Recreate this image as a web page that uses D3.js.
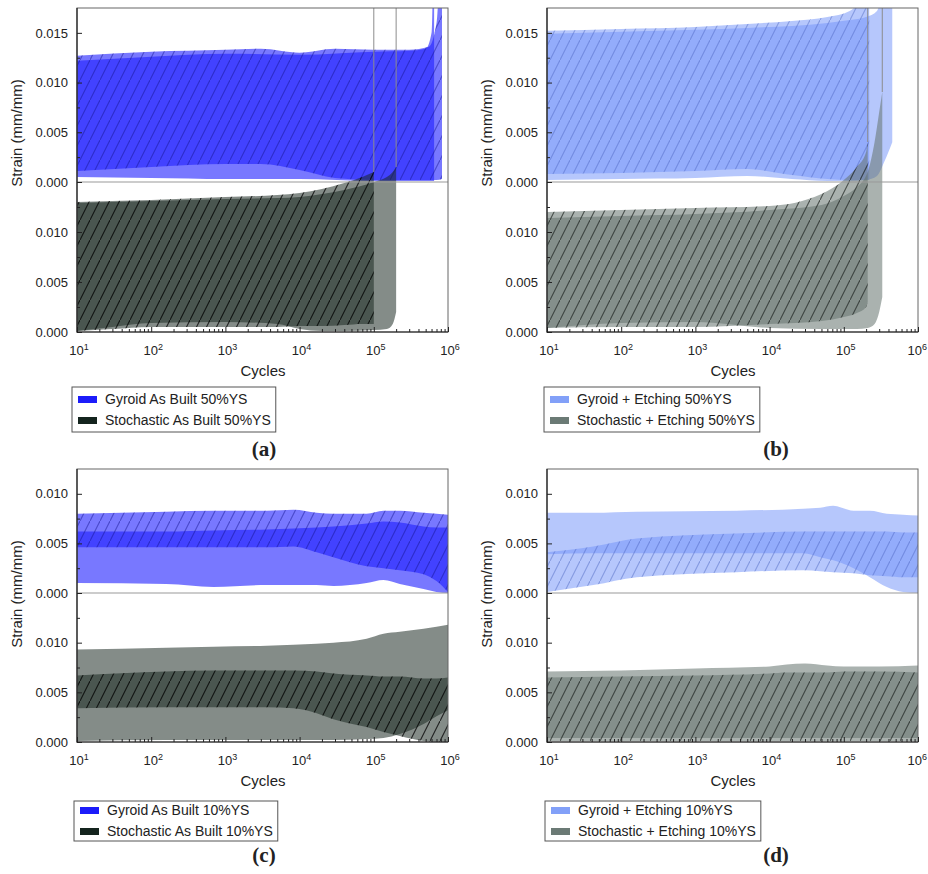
<!DOCTYPE html>
<html>
<head>
<meta charset="utf-8">
<script src="https://cdn.jsdelivr.net/npm/d3@7"></script>
<style>
body { margin: 0; background: #fff; }
svg text { font-family: "Liberation Sans", Arial, sans-serif; fill: #222; }
</style>
</head>
<body>
<div id="chart"></div>
<script>
// ---- ticks ----
let decades = [1e1, 1e2, 1e3, 1e4, 1e5, 1e6]
let topMajor50 = [0, 0.005, 0.010, 0.015]
let topMinor50 = [0.0025, 0.0075, 0.0125]
let topMajor10 = [0, 0.005, 0.010]
let topMinor10 = [0.0025, 0.0075]
let botMajor = [0, 0.005, 0.010]
let botMinor = [0.0025, 0.0075, 0.0125]

// ---- (a) As Built 50%YS ----
let aGyrHatchCyc  = [10, 100, 1000, 3000, 10000, 30000, 100000, 300000, 550000, 700000, 830000]
let aGyrHatchHigh = [0.0127, 0.0131, 0.0133, 0.0134, 0.0130, 0.0134, 0.0133, 0.0133, 0.0136, 0.0160, 0.0300]
let aGyrHatchLow  = [0.0011, 0.0015, 0.0018, 0.0018, 0.0012, 0.0004, 0.0002, 0.0002, 0.0002, 0.0002, 0.0003]
let aGyrPlainCyc  = [10, 100, 1000, 10000, 100000, 300000, 500000, 600000, 650000]
let aGyrPlainHigh = [0.0122, 0.0126, 0.0129, 0.0128, 0.0131, 0.0132, 0.0134, 0.0150, 0.0300]
let aGyrPlainLow  = [0.0005, 0.0004, 0.0003, 0.0003, 0.0001, 0.0001, 0.0001, 0.0001, 0.0001]
let aStoHatchCyc  = [10, 30, 100, 1000, 5000, 10000, 20000, 40000, 70000, 100000]
let aStoHatchHigh = [0.0130, 0.0131, 0.0132, 0.0135, 0.0137, 0.0139, 0.0143, 0.0149, 0.0155, 0.0160]
let aStoHatchLow  = [0.0001, 0.0003, 0.0005, 0.0005, 0.0005, 0.0006, 0.0006, 0.0007, 0.0008, 0.0008]
let aStoPlainCyc  = [10, 30, 100, 1000, 5000, 10000, 20000, 40000, 100000, 150000, 180000, 200000]
let aStoPlainHigh = [0.0129, 0.0130, 0.0131, 0.0133, 0.0134, 0.0135, 0.0138, 0.0142, 0.0150, 0.0155, 0.0160, 0.0165]
let aStoPlainLow  = [0.0001, 0.0005, 0.0009, 0.0010, 0.0008, 0.0003, 0.0001, 0.0001, 0.0002, 0.0003, 0.0008, 0.0020]

// ---- (b) + Etching 50%YS ----
let bGyrHatchCyc  = [10, 100, 1000, 5000, 20000, 60000, 120000, 180000, 220000]
let bGyrHatchHigh = [0.0152, 0.0154, 0.0156, 0.0159, 0.0162, 0.0166, 0.0172, 0.0190, 0.0300]
let bGyrHatchLow  = [0.0008, 0.0009, 0.0011, 0.0013, 0.0007, 0.0003, 0.0002, 0.0002, 0.0002]
let bGyrPlainCyc  = [10, 100, 1000, 5000, 20000, 60000, 120000, 200000, 280000, 350000, 450000]
let bGyrPlainHigh = [0.0149, 0.0151, 0.0153, 0.0155, 0.0157, 0.0160, 0.0163, 0.0166, 0.0172, 0.0210, 0.0300]
let bGyrPlainLow  = [0.0002, 0.0003, 0.0004, 0.0006, 0.0003, 0.0001, 0.0001, 0.0002, 0.0006, 0.0020, 0.0040]
let bStoHatchCyc  = [10, 100, 1000, 10000, 50000, 100000, 150000, 200000, 210000]
let bStoHatchHigh = [0.0120, 0.0122, 0.0124, 0.0126, 0.0138, 0.0152, 0.0165, 0.0180, 0.0190]
let bStoHatchLow  = [0.0004, 0.0005, 0.0005, 0.0008, 0.0011, 0.0015, 0.0019, 0.0025, 0.0030]
let bStoPlainCyc  = [10, 100, 1000, 10000, 50000, 100000, 150000, 210000, 260000, 300000, 330000]
let bStoPlainHigh = [0.0114, 0.0116, 0.0118, 0.0122, 0.0127, 0.0136, 0.0145, 0.0160, 0.0190, 0.0220, 0.0240]
let bStoPlainLow  = [0.0004, 0.0009, 0.0010, 0.0004, 0.0003, 0.0003, 0.0003, 0.0004, 0.0008, 0.0020, 0.0035]

// ---- (c) As Built 10%YS ----
let cCyc          = [10, 160, 690, 3600, 8300, 17000, 28500, 80000, 135000, 224000, 468000, 700000, 1000000]
let cGyrHatchHigh = [0.0080, 0.0082, 0.0083, 0.0083, 0.0084, 0.0081, 0.0080, 0.0080, 0.0083, 0.0083, 0.0081, 0.0080, 0.0079]
let cGyrHatchLow  = [0.0046, 0.0046, 0.0046, 0.0046, 0.0047, 0.0041, 0.0036, 0.0027, 0.0025, 0.0023, 0.0019, 0.0012, 0.0001]
let cGyrPlainHigh = [0.0062, 0.0062, 0.0063, 0.0064, 0.0065, 0.0066, 0.0067, 0.0070, 0.0072, 0.0071, 0.0067, 0.0066, 0.0066]
let cGyrPlainLow  = [0.0010, 0.0009, 0.0006, 0.0008, 0.0008, 0.0008, 0.0007, 0.0010, 0.0013, 0.0009, 0.0004, 0.0001, 0.0000]
let cStoHatchHigh = [0.0067, 0.0071, 0.0072, 0.0072, 0.0072, 0.0071, 0.0069, 0.0067, 0.0066, 0.0066, 0.0064, 0.0064, 0.0065]
let cStoHatchLow  = [0.0034, 0.0035, 0.0035, 0.0035, 0.0034, 0.0029, 0.0023, 0.0015, 0.0010, 0.0006, 0.0001, 0.0000, 0.0000]
let cStoPlainHigh = [0.0093, 0.0095, 0.0096, 0.0097, 0.0098, 0.0099, 0.0100, 0.0104, 0.0109, 0.0111, 0.0114, 0.0116, 0.0118]
let cStoPlainLow  = [0.0001, 0.0002, 0.0002, 0.0002, 0.0002, 0.0002, 0.0002, 0.0003, 0.0004, 0.0008, 0.0018, 0.0026, 0.0032]

// ---- (d) + Etching 10%YS ----
let dGyrCyc       = [10, 42, 162, 3600, 28500, 48000, 72000, 135000, 224000, 380000, 630000, 1000000]
let dGyrHatchHigh = [0.0041, 0.0047, 0.0055, 0.0060, 0.0062, 0.0062, 0.0062, 0.0062, 0.0062, 0.0062, 0.0061, 0.0061]
let dGyrHatchLow  = [0.0001, 0.0008, 0.0016, 0.0021, 0.0023, 0.0022, 0.0021, 0.0020, 0.0018, 0.0017, 0.0016, 0.0016]
let dGyrPlainHigh = [0.0081, 0.0081, 0.0082, 0.0083, 0.0085, 0.0086, 0.0088, 0.0083, 0.0083, 0.0080, 0.0079, 0.0078]
let dGyrPlainLow  = [0.0039, 0.0040, 0.0040, 0.0040, 0.0040, 0.0036, 0.0033, 0.0025, 0.0016, 0.0006, 0.0001, 0.0000]
let dStoCyc       = [10, 100, 1000, 10000, 17000, 30000, 60000, 100000, 300000, 1000000]
let dStoHatchHigh = [0.0065, 0.0066, 0.0067, 0.0069, 0.0070, 0.0070, 0.0070, 0.0071, 0.0071, 0.0070]
let dStoHatchLow  = [0.0001, 0.0001, 0.0001, 0.0001, 0.0001, 0.0001, 0.0001, 0.0001, 0.0001, 0.0001]
let dStoPlainHigh = [0.0071, 0.0072, 0.0074, 0.0076, 0.0078, 0.0079, 0.0077, 0.0076, 0.0076, 0.0077]
let dStoPlainLow  = [0.0004, 0.0004, 0.0004, 0.0004, 0.0004, 0.0004, 0.0004, 0.0004, 0.0004, 0.0004]

let legendA = ["Gyroid As Built 50%YS", "Stochastic As Built 50%YS"]
let legendB = ["Gyroid + Etching 50%YS", "Stochastic + Etching 50%YS"]
let legendC = ["Gyroid As Built 10%YS", "Stochastic As Built 10%YS"]
let legendD = ["Gyroid + Etching 10%YS", "Stochastic + Etching 10%YS"]

let band = (c, lo, hi) => c.map((v, i) => ({ c: v, lo: lo[i], hi: hi[i] }))

let styles = {
	gyrBuilt: { fill: "#1e1eff", op: 0.6, hatch: "#10108a", hatchOp: 0.45, swatch: "#1c1cfa" },
	stoBuilt: { fill: "#16261f", op: 0.53, hatch: "#000", hatchOp: 0.75, swatch: "#14241e" },
	gyrEtch: { fill: "#7393fa", op: 0.52, hatch: "#4a63c0", hatchOp: 0.45, swatch: "#82a0f8" },
	stoEtch: { fill: "#65736e", op: 0.55, hatch: "#1f2422", hatchOp: 0.7, swatch: "#6b7a75" }
}

let row1 = { top: 8, zero: 182, bottom: 332, tickY: 355, cycY: 376, legY: 387, legH: 45, legRow: [17, 38], labY: 456 }
let row2 = { top: 8, zero: 132, bottom: 281, tickY: 304, cycY: 325, legY: 340, legH: 40, legRow: [14, 35], labY: 401 }

let panels = [
	{ name: "(a)", ox: 0, oy: 0, row: row1, topMax: 0.0175, topMajor: topMajor50, topMinor: topMinor50,
	  gyr: "gyrBuilt", sto: "stoBuilt", legend: legendA, legX: 72, fail: true,
	  gyrH: band(aGyrHatchCyc, aGyrHatchLow, aGyrHatchHigh), gyrP: band(aGyrPlainCyc, aGyrPlainLow, aGyrPlainHigh),
	  stoH: band(aStoHatchCyc, aStoHatchLow, aStoHatchHigh), stoP: band(aStoPlainCyc, aStoPlainLow, aStoPlainHigh) },
	{ name: "(b)", ox: 470, oy: 0, row: row1, topMax: 0.0175, topMajor: topMajor50, topMinor: topMinor50,
	  gyr: "gyrEtch", sto: "stoEtch", legend: legendB, legX: 74, fail: true,
	  gyrH: band(bGyrHatchCyc, bGyrHatchLow, bGyrHatchHigh), gyrP: band(bGyrPlainCyc, bGyrPlainLow, bGyrPlainHigh),
	  stoH: band(bStoHatchCyc, bStoHatchLow, bStoHatchHigh), stoP: band(bStoPlainCyc, bStoPlainLow, bStoPlainHigh) },
	{ name: "(c)", ox: 0, oy: 461, row: row2, topMax: 0.0125, topMajor: topMajor10, topMinor: topMinor10,
	  gyr: "gyrBuilt", sto: "stoBuilt", legend: legendC, legX: 74, fail: false,
	  gyrH: band(cCyc, cGyrHatchLow, cGyrHatchHigh), gyrP: band(cCyc, cGyrPlainLow, cGyrPlainHigh),
	  stoH: band(cCyc, cStoHatchLow, cStoHatchHigh), stoP: band(cCyc, cStoPlainLow, cStoPlainHigh) },
	{ name: "(d)", ox: 470, oy: 461, row: row2, topMax: 0.0125, topMajor: topMajor10, topMinor: topMinor10,
	  gyr: "gyrEtch", sto: "stoEtch", legend: legendD, legX: 75, fail: false,
	  gyrH: band(dGyrCyc, dGyrHatchLow, dGyrHatchHigh), gyrP: band(dGyrCyc, dGyrPlainLow, dGyrPlainHigh),
	  stoH: band(dStoCyc, dStoHatchLow, dStoHatchHigh), stoP: band(dStoCyc, dStoPlainLow, dStoPlainHigh) }
]

let w = 928
let h = 874
let left = 77
let right = 448

let svg = d3.select("#chart").append("svg")
	.attr("width", w)
	.attr("height", h)
	.style("background", "#fff")

// "/" hatching: tile 10 wide, 20 tall, line corner to corner
let defs = svg.append("defs")
Object.entries(styles).forEach(([k, s]) => {
	defs.append("pattern")
		.attr("id", "hatch-" + k)
		.attr("patternUnits", "userSpaceOnUse")
		.attr("width", 10)
		.attr("height", 20)
		.append("line")
		.attr("x1", -1).attr("y1", 22)
		.attr("x2", 11).attr("y2", -2)
		.attr("stroke", s.hatch)
		.attr("stroke-opacity", s.hatchOp)
		.attr("stroke-width", 1.1)
})

let minorX = []
decades.slice(0, -1).forEach(d => { for (let k = 2; k <= 9; k++) minorX.push(k * d) })

let fmt = d3.format(".3f")

panels.forEach((p, pi) => {
	let r = p.row
	let g = svg.append("g").attr("transform", "translate(" + p.ox + "," + p.oy + ")")

	let x = d3.scaleLog().domain([10, 1e6]).range([left, right])
	let yTop = d3.scaleLinear().domain([0, p.topMax]).range([r.zero, r.top])
	let yBot = d3.scaleLinear().domain([0, 0.015]).range([r.bottom, r.zero])

	// clip regions
	defs.append("clipPath").attr("id", "clipTop" + pi)
		.append("rect").attr("x", left).attr("y", r.top).attr("width", right - left).attr("height", r.zero - r.top)
	defs.append("clipPath").attr("id", "clipAll" + pi)
		.append("rect").attr("x", left).attr("y", r.top).attr("width", right - left).attr("height", r.bottom - r.top)

	let areaOf = ys => d3.area()
		.x(d => x(d.c))
		.y0(d => ys(d.lo))
		.y1(d => ys(d.hi))
		.curve(d3.curveMonotoneX)

	let drawBands = (clipId, ys, plain, hatched, key) => {
		let s = styles[key]
		let cg = g.append("g").attr("clip-path", "url(#" + clipId + ")")
		cg.append("path").datum(plain)
			.attr("d", areaOf(ys))
			.attr("fill", s.fill).attr("fill-opacity", s.op)
		cg.append("path").datum(hatched)
			.attr("d", areaOf(ys))
			.attr("fill", s.fill).attr("fill-opacity", s.op)
		cg.append("path").datum(hatched)
			.attr("d", areaOf(ys))
			.attr("fill", "url(#hatch-" + key + ")")
		return cg
	}

	drawBands("clipTop" + pi, yTop, p.gyrP, p.gyrH, p.gyr)
	let sg = drawBands("clipAll" + pi, yBot, p.stoP, p.stoH, p.sto)

	// failure spikes of the stochastic specimens
	if (p.fail) {
		[p.stoH, p.stoP].forEach(b => {
			let last = b[b.length - 1]
			sg.append("line")
				.attr("x1", x(last.c)).attr("x2", x(last.c))
				.attr("y1", yBot(last.hi)).attr("y2", r.top)
				.attr("stroke", "#8c8c8c").attr("stroke-width", 1)
		})
	}

	// divider between the two sub-plots
	g.append("line")
		.attr("x1", left).attr("x2", right)
		.attr("y1", r.zero).attr("y2", r.zero)
		.attr("stroke", "#999").attr("stroke-width", 1)

	// frame
	g.append("rect")
		.attr("x", left).attr("y", r.top)
		.attr("width", right - left).attr("height", r.bottom - r.top)
		.attr("fill", "none").attr("stroke", "#666").attr("stroke-width", 1)

	let styleAxis = a => {
		a.select(".domain").remove()
		a.selectAll("line").attr("stroke", "#222")
		a.selectAll("text").attr("font-size", 13).attr("fill", "#222")
			.attr("font-family", '"Liberation Sans", Arial, sans-serif')
	}

	// y axes
	g.append("g").attr("transform", "translate(" + left + ",0)")
		.call(d3.axisLeft(yTop).tickValues(p.topMajor).tickSize(-5).tickPadding(9).tickFormat(fmt))
		.call(styleAxis)
	g.append("g").attr("transform", "translate(" + left + ",0)")
		.call(d3.axisLeft(yTop).tickValues(p.topMinor).tickSize(-3).tickFormat(""))
		.call(styleAxis)
	g.append("g").attr("transform", "translate(" + left + ",0)")
		.call(d3.axisLeft(yBot).tickValues(botMajor).tickSize(-5).tickPadding(9).tickFormat(fmt))
		.call(styleAxis)
	g.append("g").attr("transform", "translate(" + left + ",0)")
		.call(d3.axisLeft(yBot).tickValues(botMinor).tickSize(-3).tickFormat(""))
		.call(styleAxis)

	// x axis
	g.append("g").attr("transform", "translate(0," + r.bottom + ")")
		.call(d3.axisBottom(x).tickValues(decades).tickSize(-5).tickFormat(""))
		.call(styleAxis)
	g.append("g").attr("transform", "translate(0," + r.bottom + ")")
		.call(d3.axisBottom(x).tickValues(minorX).tickSize(-3).tickFormat(""))
		.call(styleAxis)

	let xl = g.append("g").selectAll("text")
		.data(decades)
		.enter()
		.append("text")
		.attr("x", d => x(d) + 2)
		.attr("y", r.tickY)
		.attr("text-anchor", "middle")
		.attr("font-size", 13)
	xl.append("tspan").text("10")
	xl.append("tspan").text(d => Math.round(Math.log10(d)))
		.attr("font-size", 9).attr("dy", -5)
	// keep the last label inside the page
	xl.each(function(d) {
		let t = d3.select(this)
		let half = this.getComputedTextLength() / 2
		let maxX = w - p.ox - 1 - half
		if (+t.attr("x") > maxX) t.attr("x", maxX)
	})

	// left and bottom axis lines
	g.append("path")
		.attr("d", "M" + left + "," + r.top + "V" + r.bottom + "H" + right)
		.attr("fill", "none").attr("stroke", "#222").attr("stroke-width", 1.2)

	// axis titles
	g.append("text")
		.attr("transform", "translate(22," + (r.top + 125) + ") rotate(-90)")
		.attr("text-anchor", "middle")
		.attr("font-size", 15)
		.text("Strain (mm/mm)")
	g.append("text")
		.attr("x", 263).attr("y", r.cycY)
		.attr("text-anchor", "middle")
		.attr("font-size", 15)
		.text("Cycles")

	// legend
	let lg = g.append("g")
	let rows = lg.selectAll("g")
		.data(p.legend)
		.enter()
		.append("g")
	rows.append("rect")
		.attr("x", p.legX + 6)
		.attr("y", (d, i) => r.legY + r.legRow[i] - 8)
		.attr("width", 19).attr("height", 7)
		.attr("fill", (d, i) => styles[i == 0 ? p.gyr : p.sto].swatch)
	let lt = rows.append("text")
		.attr("x", p.legX + 33)
		.attr("y", (d, i) => r.legY + r.legRow[i])
		.attr("font-size", 14)
		.text(d => d)
	let maxW = d3.max(lt.nodes(), n => n.getComputedTextLength())
	lg.insert("rect", ":first-child")
		.attr("x", p.legX).attr("y", r.legY)
		.attr("width", 33 + maxW + 5).attr("height", r.legH)
		.attr("fill", "#fff").attr("stroke", "#555").attr("stroke-width", 1)

	// panel letter
	g.append("text")
		.attr("x", pi % 2 == 0 ? 264 : 306)
		.attr("y", r.labY)
		.attr("text-anchor", "middle")
		.attr("font-weight", "bold")
		.attr("font-size", 21)
		.style("font-family", '"Liberation Serif", "Times New Roman", serif')
		.text(p.name)
})
</script>
</body>
</html>
